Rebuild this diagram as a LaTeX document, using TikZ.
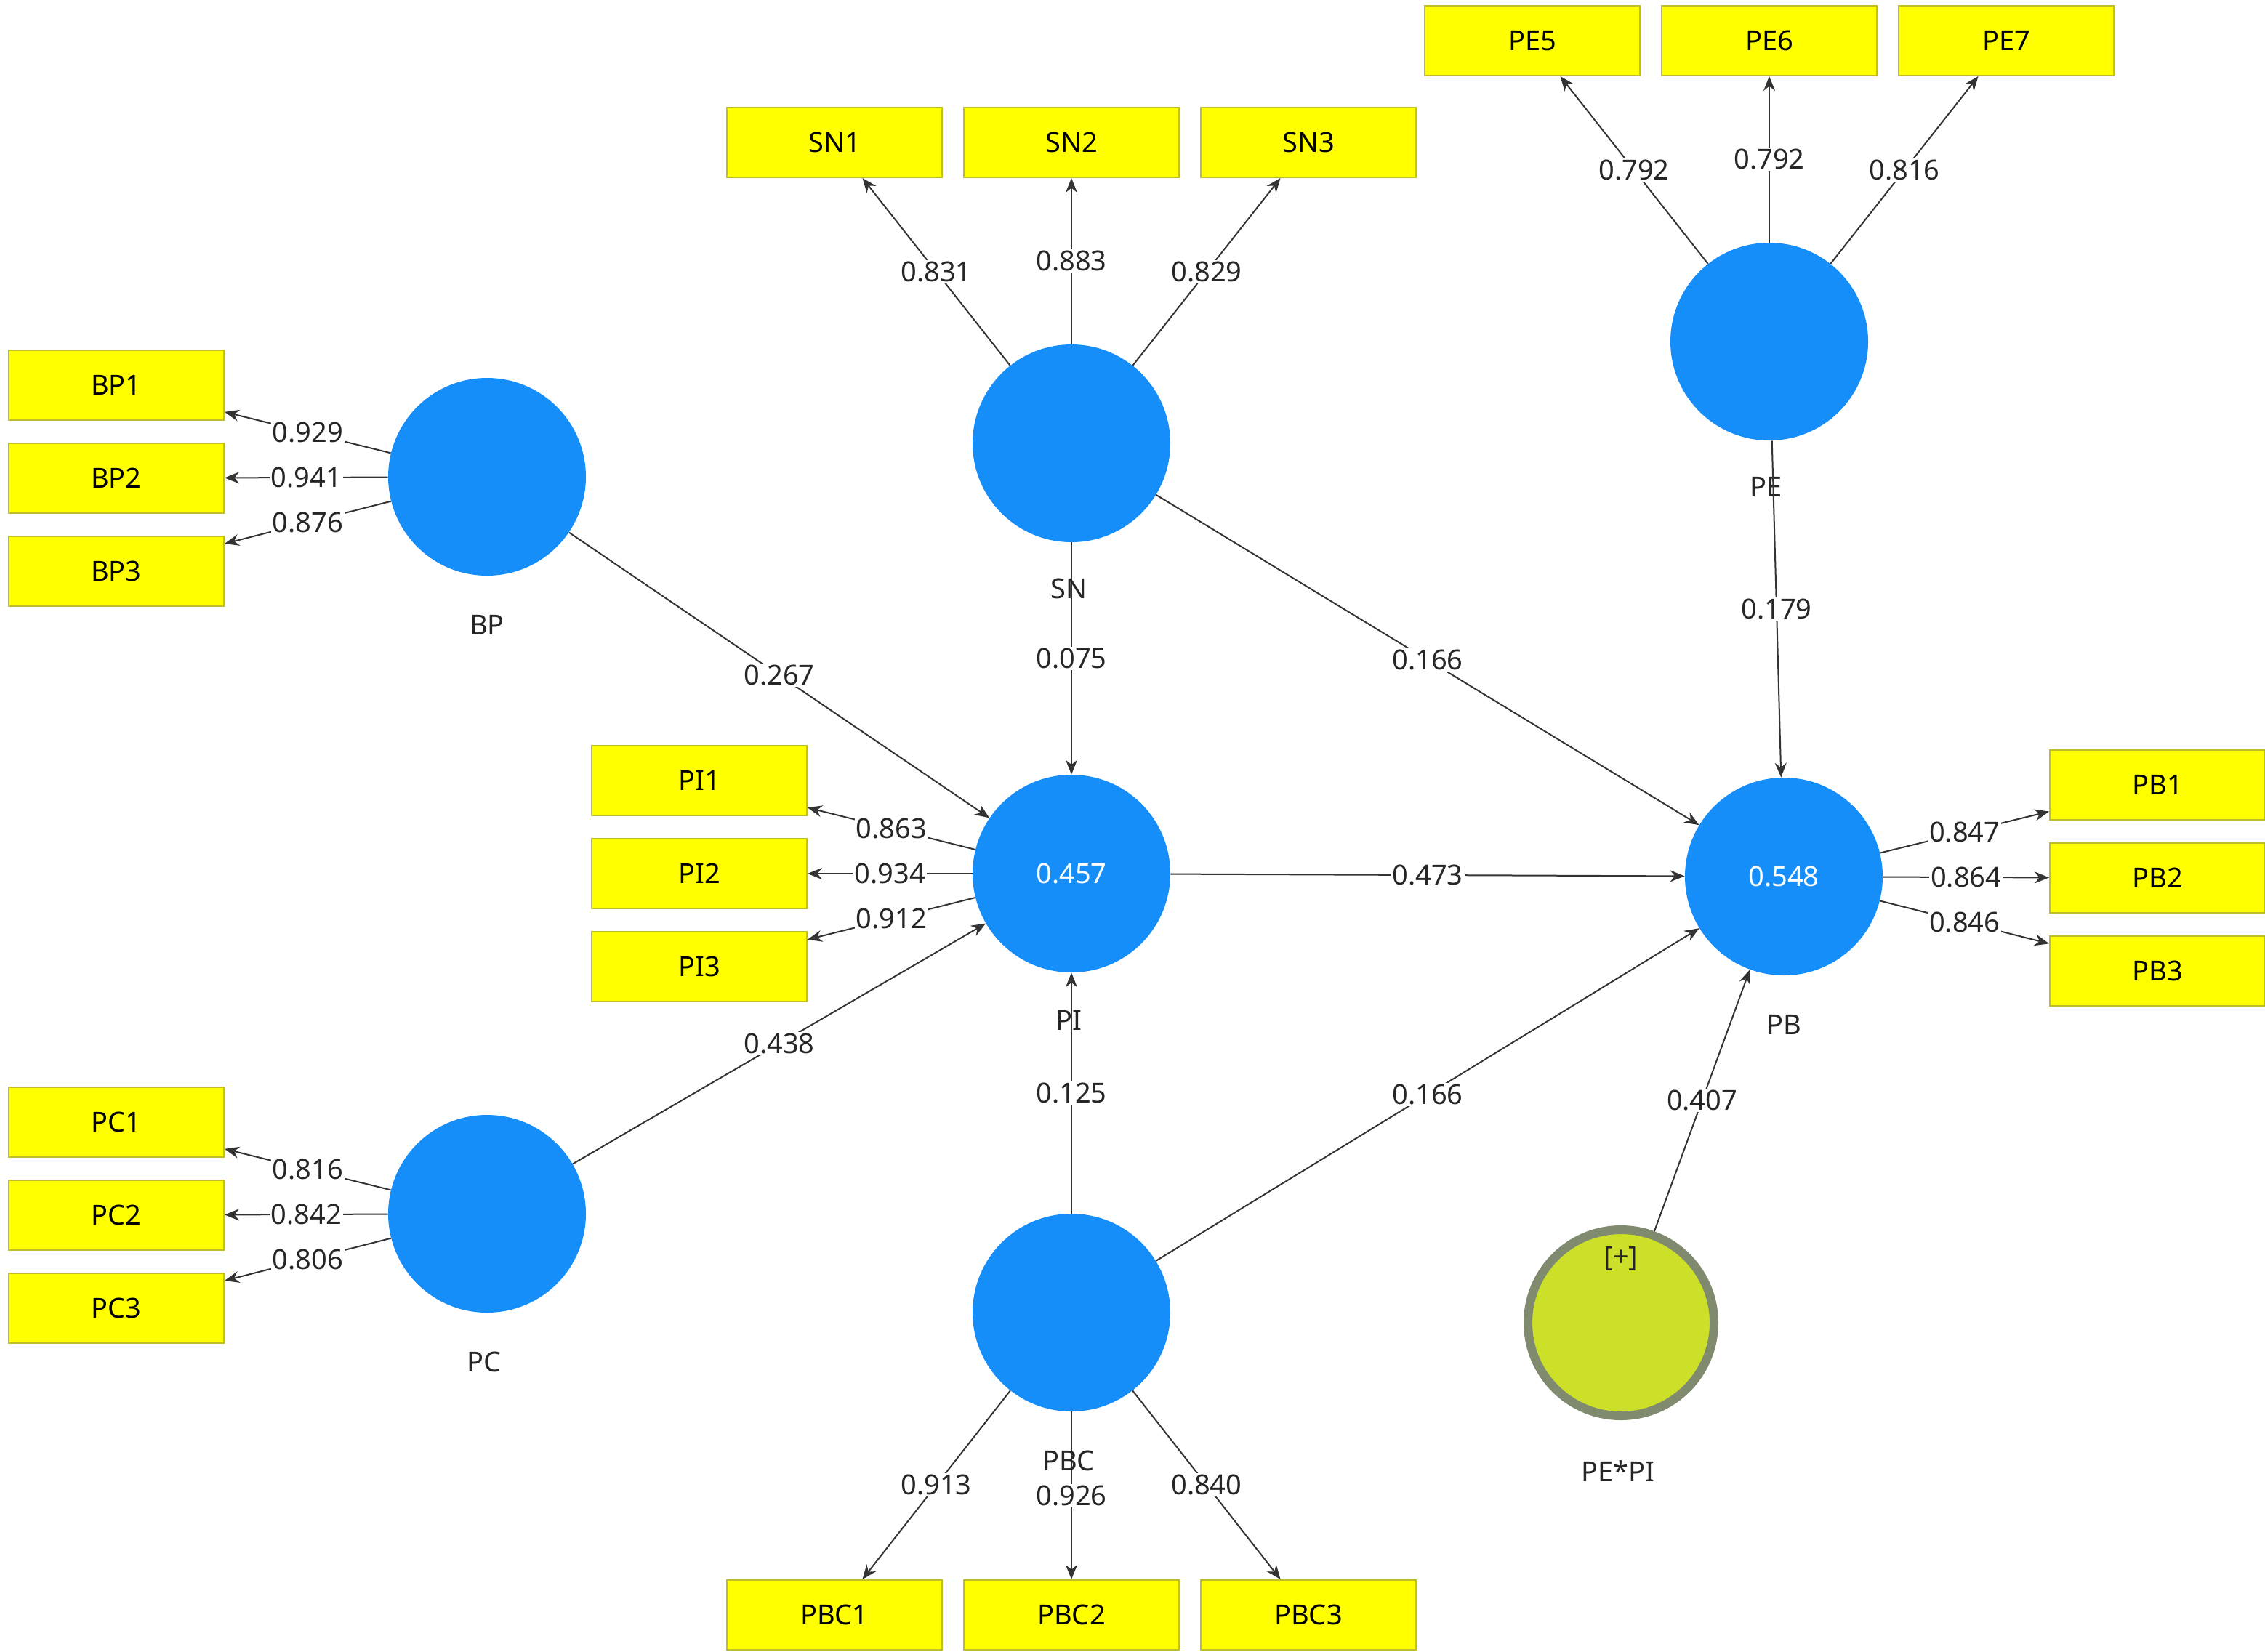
\documentclass[tikz,border=0pt]{standalone}
\usepackage{fontspec}
\setmainfont{Noto Sans}
\usetikzlibrary{arrows.meta}
\definecolor{cblue}{RGB}{22,142,250}
\definecolor{ybox}{RGB}{255,255,0}
\definecolor{yline}{RGB}{190,190,40}
\definecolor{lime}{RGB}{204,224,42}
\definecolor{ring}{RGB}{128,138,110}
\begin{document}
\begin{tikzpicture}[x=1pt,y=-1pt,
  every node/.style={font=\fontsize{19}{22}\selectfont},
  lv/.style={circle,fill=cblue,minimum size=136pt,inner sep=0pt,text=white},
  ind/.style={rectangle,fill=ybox,draw=yline,line width=1pt,minimum width=148pt,minimum height=48pt,inner sep=0pt},
  captxt/.style={text=black!85},
  arr/.style={draw=black!80,line width=1pt,-{Stealth[length=10pt,width=8pt]}},
  lab/.style={fill=white,inner sep=1pt,pos=0.5,text=black!85}]
\useasboundingbox (0,0) rectangle (1558,1136);
% latent
\node[lv] (BP) at (335,328) {};
\node[lv] (SN) at (737,305) {};
\node[lv] (PE) at (1217,235) {};
\node[lv] (PI) at (737,601) {0.457};
\node[lv] (PB) at (1227,603) {0.548};
\node[lv] (PC) at (335,835) {};
\node[lv] (PBC) at (737,903) {};
\node[circle,fill=lime,draw=ring,line width=6pt,minimum size=128pt,inner sep=0pt] (PEPI) at (1115,910) {};
\node[captxt] (plus) at (1115,866) {[+]};
% indicators
\foreach \n/\x/\y in {BP1/80/265,BP2/80/329,BP3/80/393,SN1/574/98,SN2/737/98,SN3/900/98,
  PE5/1054/28,PE6/1217/28,PE7/1380/28,PI1/481/537,PI2/481/601,PI3/481/665,
  PB1/1484/540,PB2/1484/604,PB3/1484/668,PC1/80/772,PC2/80/836,PC3/80/900,
  PBC1/574/1111,PBC2/737/1111,PBC3/900/1111}
  \node[ind] (\n) at (\x,\y) {\n};
% captions
\node[captxt] (cBP) at (335,430) {BP};
\node[captxt] (cPE) at (1215,335) {PE};
\node[captxt] (cPB) at (1227,705) {PB};
\node[captxt] (cPC) at (333,937) {PC};
\node[captxt] (cPEPI) at (1113,1012) {PE*PI};
% loadings
\foreach \a/\b/\v in {BP/BP1/0.929,BP/BP2/0.941,BP/BP3/0.876,SN/SN1/0.831,SN/SN2/0.883,SN/SN3/0.829,
  PE/PE5/0.792,PE/PE6/0.792,PE/PE7/0.816,PI/PI1/0.863,PI/PI2/0.934,PI/PI3/0.912,
  PB/PB1/0.847,PB/PB2/0.864,PB/PB3/0.846,PC/PC1/0.816,PC/PC2/0.842,PC/PC3/0.806,
  PBC/PBC1/0.913,PBC/PBC2/0.926,PBC/PBC3/0.840}
  \draw[arr] (\a) -- node[lab] {\v} (\b);
% paths
\draw[arr] (BP) -- node[lab] {0.267} (PI);
\draw[arr] (SN) -- node[lab] {0.075} (PI);
\draw[arr] (SN) -- node[lab] {0.166} (PB);
\draw[arr] (PE) -- node[lab] {0.179} (PB);
\draw[arr] (PI) -- node[lab] {0.473} (PB);
\draw[arr] (PC) -- node[lab] {0.438} (PI);
\draw[arr] (PBC) -- node[lab] {0.125} (PI);
\draw[arr] (PBC) -- node[lab] {0.166} (PB);
\draw[arr] (PEPI) -- node[lab] {0.407} (PB);
\node[captxt] (cSN) at (735,405) {SN};
\node[captxt] (cPI) at (735,702) {PI};
\node[captxt] (cPBC) at (735,1005) {PBC};
\end{tikzpicture}
\end{document}
